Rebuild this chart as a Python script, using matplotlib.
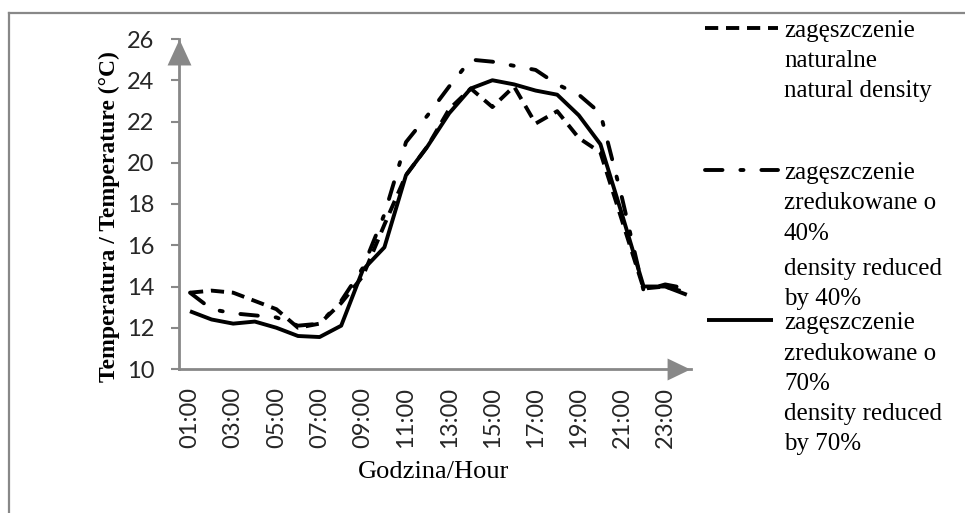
import matplotlib
matplotlib.use("Agg")
import matplotlib.pyplot as plt
from matplotlib.lines import Line2D
import numpy as np

# ---------------- data ----------------
hours = ["%02d:00" % h for h in range(1, 25)]
natural = [13.7, 13.8, 13.7, 13.3, 12.9, 12.0, 12.2, 13.2, 14.5, 17.0, 19.4, 20.8,
           22.6, 23.6, 22.7, 23.7, 21.9, 22.5, 21.2, 20.5, 17.2, 13.9, 14.0, 13.7]
reduced40 = [13.7, 12.9, 12.7, 12.6, 12.5, 12.1, 12.2, 13.3, 14.9, 17.5, 21.0, 22.3,
             23.7, 25.0, 24.9, 24.7, 24.5, 23.8, 23.3, 22.4, 18.3, 13.8, 14.1, 13.9]
reduced70 = [12.8, 12.4, 12.2, 12.3, 12.0, 11.6, 11.55, 12.1, 14.8, 15.9, 19.4, 20.8,
             22.4, 23.6, 24.0, 23.8, 23.5, 23.3, 22.3, 20.9, 17.5, 14.0, 14.0, 13.6]
yticks = [10, 12, 14, 16, 18, 20, 22, 24, 26]

legend_lines = [
    ["zagęszczenie", "naturalne", "natural density"],
    ["zagęszczenie", "zredukowane o", "40%", "density reduced", "by 40%"],
    ["zagęszczenie", "zredukowane o", "70%", "density reduced", "by 70%"],
]

# ---------------- figure ----------------
W, H = 965, 513
fig = plt.figure(figsize=(W / 100, H / 100), dpi=100)
fig.patch.set_facecolor("white")

def fx(px):
    return px / W

def fy(py):
    return 1 - py / H

ax_l, ax_r, ax_t, ax_b = 179.2, 697.6, 39, 369
ax = fig.add_axes([fx(ax_l), fy(ax_b), fx(ax_r - ax_l), (ax_b - ax_t) / H])

GRAY = "#888888"
LW = 2.8
x = np.arange(1, 25)

dash_nat = (3.4, 2.0)
dash_dd = (4.5, 4.6, 0.8, 4.6)

l1, = ax.plot(x, natural, color="black", lw=LW, dashes=dash_nat,
              solid_joinstyle="round", dash_joinstyle="round", dash_capstyle="butt")
l2, = ax.plot(x, reduced40, color="black", lw=LW, dashes=dash_dd,
              dash_joinstyle="round", dash_capstyle="round")
l3, = ax.plot(x, reduced70, color="black", lw=LW, solid_joinstyle="round",
              solid_capstyle="butt")

ax.set_xlim(0.5, 24.5)
ax.set_ylim(10, 26)
ax.set_yticks(yticks)
ax.set_yticklabels([str(v) for v in yticks], fontfamily="Lato", fontsize=17, color="#262626")
ax.set_xticks(x[::2])
ax.set_xticklabels(hours[::2], rotation=90, fontfamily="Lato", fontsize=17, color="#262626")
ax.tick_params(axis="y", direction="out", length=5.8, width=1.5, color=GRAY, pad=12)
ax.tick_params(axis="x", length=0, pad=13)

for s in ["top", "right"]:
    ax.spines[s].set_visible(False)
for s in ["left", "bottom"]:
    ax.spines[s].set_color(GRAY)
    ax.spines[s].set_linewidth(2.0)
ax.spines["bottom"].set_bounds(0.5, 24.2)

# axis arrows
up = [(0, 0), (-0.46, -1), (0.46, -1), (0, 0)]
right = [(0, 0), (-1, 0.48), (-1, -0.48), (0, 0)]
ax.plot([0], [1], transform=ax.transAxes, marker=up, markersize=37.4,
        color=GRAY, markeredgewidth=0, clip_on=False)
ax.plot([0.986], [0], transform=ax.transAxes, marker=right, markersize=33,
        color=GRAY, markeredgewidth=0, clip_on=False)

# axis labels
ax.set_xlabel("Godzina/Hour", fontfamily="Liberation Serif", fontsize=19, va="center")
ax.xaxis.set_label_coords((434 - ax_l) / (ax_r - ax_l), (ax_b - 472) / (ax_b - ax_t))
ax.set_ylabel("Temperatura / Temperature (°C)", fontfamily="Liberation Serif",
              fontsize=17, fontweight="bold", va="center")
ax.yaxis.set_label_coords((109 - ax_l) / (ax_r - ax_l), (ax_b - 217) / (ax_b - ax_t))

# legend (manual layout to mimic the cropped Excel legend)
handles = [l1, l2, l3]
handle_y = [28, 170, 320]
handle_x = [(705, 778), (705, 778), (707, 773)]
baselines = [[37, 67, 97], [179, 209, 240, 275, 305], [329, 360, 390, 420, 450]]
for h, hy, (xa, xb), lines, bl in zip(handles, handle_y, handle_x, legend_lines, baselines):
    ln = Line2D([fx(xa), fx(xb)], [fy(hy), fy(hy)], transform=fig.transFigure,
                color="black", lw=LW, linestyle=h.get_linestyle(),
                solid_capstyle="butt")
    ln.set_dashes(h._unscaled_dash_pattern[1] if h._unscaled_dash_pattern[1] else None) if False else None
    if h is l1:
        ln.set_dashes(dash_nat)
    elif h is l2:
        ln.set_dashes(dash_dd)
        ln.set_dash_capstyle("round")
    fig.add_artist(ln)
    for txt, b in zip(lines, bl):
        fig.text(fx(784), fy(b), txt, fontfamily="Liberation Serif", fontsize=18,
                 va="baseline", ha="left", color="black")

# outer frame (cropped at right and bottom)
fig.add_artist(Line2D([fx(9), 1.01], [fy(13), fy(13)], transform=fig.transFigure,
                      color=GRAY, lw=1.6))
fig.add_artist(Line2D([fx(9), fx(9)], [fy(13), -0.01], transform=fig.transFigure,
                      color=GRAY, lw=1.6))

fig.savefig("out.png", dpi=100, facecolor="white")
